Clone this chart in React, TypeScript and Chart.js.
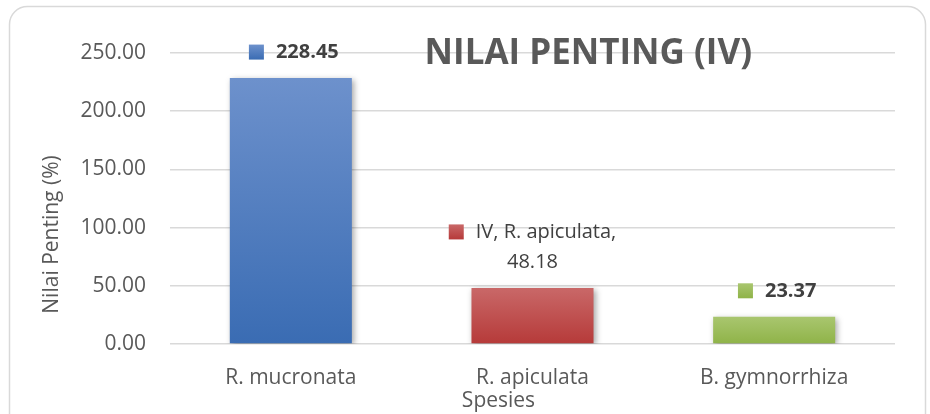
import React, { useEffect, useRef } from "react";
import { Chart, registerables } from "chart.js";

Chart.register(...registerables);

const categories = ["R. mucronata", "R. apiculata", "B. gymnorrhiza"];
const seriesName = "IV";
const values = [228.45, 48.18, 23.37];
const yMin = 0;
const yMax = 250;
const yStep = 50;
const chartTitle = "NILAI PENTING (IV)";
const yAxisTitle = "Nilai Penting (%)";
const xAxisTitle = "Spesies";
// label style per bar: "value" = value only (bold), "full" = series, category, value
const labelModes = ["value", "full", "value"];

const topColors = ["#6d91cc", "#c96868", "#a9c66f"];
const bottomColors = ["#3a6cb3", "#b63a39", "#8fb348"];

const FONT = "'Open Sans', sans-serif";
const TEXT = "#595959";
const LABEL = "#404040";

function barGradient(ctx: CanvasRenderingContext2D, i: number, top: number, bottom: number) {
  const g = ctx.createLinearGradient(0, top, 0, bottom);
  g.addColorStop(0, topColors[i]);
  g.addColorStop(1, bottomColors[i]);
  return g;
}

const decorPlugin = {
  id: "decor",
  beforeDraw(chart: any) {
    const ctx = chart.ctx as CanvasRenderingContext2D;
    ctx.save();
    ctx.strokeStyle = "#d9d9d9";
    ctx.lineWidth = 1.5;
    ctx.beginPath();
    (ctx as any).roundRect(9.5, 6.5, 916, 430, 18);
    ctx.stroke();
    ctx.restore();
  },
  beforeDatasetsDraw(chart: any) {
    const ctx = chart.ctx as CanvasRenderingContext2D;
    ctx.save();
    ctx.shadowColor = "rgba(0,0,0,0.35)";
    ctx.shadowBlur = 6;
    ctx.shadowOffsetX = 2;
    ctx.shadowOffsetY = 2;
  },
  afterDatasetsDraw(chart: any) {
    const ctx = chart.ctx as CanvasRenderingContext2D;
    ctx.restore();
    const meta = chart.getDatasetMeta(0);
    const area = chart.chartArea;
    const marker = 15;
    const gap = 12;
    meta.data.forEach((bar: any, i: number) => {
      const v = values[i];
      const valText = v.toFixed(2);
      ctx.save();
      ctx.textBaseline = "middle";
      ctx.fillStyle = LABEL;
      if (labelModes[i] === "full") {
        ctx.font = `20px ${FONT}`;
        const line1 = `${seriesName}, ${categories[i]},`;
        const w1 = ctx.measureText(line1).width;
        const total = marker + gap + w1;
        const left = bar.x - total / 2;
        const y2 = bar.y - 26;
        const y1 = y2 - 30;
        ctx.fillStyle = barGradient(ctx, i, y1 - marker / 2, y1 + marker / 2);
        ctx.fillRect(left, y1 - marker / 2, marker, marker);
        ctx.fillStyle = LABEL;
        ctx.textAlign = "left";
        ctx.fillText(line1, left + marker + gap, y1);
        ctx.textAlign = "center";
        ctx.fillText(valText, bar.x, y2);
      } else {
        ctx.font = `bold 20px ${FONT}`;
        const w = ctx.measureText(valText).width;
        const total = marker + gap + w;
        const left = bar.x + 3 - total / 2;
        const y = bar.y - 26;
        ctx.fillStyle = barGradient(ctx, i, y - marker / 2, y + marker / 2);
        ctx.fillRect(left, y - marker / 2, marker, marker);
        ctx.fillStyle = LABEL;
        ctx.textAlign = "left";
        ctx.fillText(valText, left + marker + gap, y);
      }
      ctx.restore();
    });

    // chart title (drawn over gridline)
    ctx.save();
    ctx.fillStyle = TEXT;
    ctx.font = `bold 35px ${FONT}`;
    ctx.textAlign = "center";
    ctx.textBaseline = "middle";
    ctx.fillText(chartTitle, area.left + (area.right - area.left) * 0.577, area.top + 1);
    ctx.restore();

    // y axis title
    ctx.save();
    ctx.fillStyle = TEXT;
    ctx.font = `21px ${FONT}`;
    ctx.textAlign = "center";
    ctx.textBaseline = "middle";
    ctx.translate(52, (area.top + area.bottom) / 2 + 36);
    ctx.rotate(-Math.PI / 2);
    ctx.fillText(yAxisTitle, 0, 0);
    ctx.restore();

    // x axis title
    ctx.save();
    ctx.fillStyle = TEXT;
    ctx.font = `21px ${FONT}`;
    ctx.textAlign = "center";
    ctx.textBaseline = "middle";
    ctx.fillText(xAxisTitle, (area.left + area.right) / 2 - 34, area.bottom + 57);
    ctx.restore();
  },
};

export default function App() {
  const ref = useRef<HTMLCanvasElement | null>(null);

  useEffect(() => {
    if (!ref.current) return;
    const chart = new Chart(ref.current, {
      type: "bar",
      data: {
        labels: categories,
        datasets: [
          {
            label: seriesName,
            data: values,
            backgroundColor: (c: any) => {
              const i = c.dataIndex ?? 0;
              const ys = c.chart.scales?.y;
              if (!ys || c.type !== "data") return bottomColors[i] || bottomColors[0];
              const top = ys.getPixelForValue(values[i]);
              const bot = ys.getPixelForValue(0);
              if (!isFinite(top) || !isFinite(bot) || top === bot) return bottomColors[i];
              return barGradient(c.chart.ctx, i, top, bot);
            },
            borderWidth: 0,
            barPercentage: 0.505,
            categoryPercentage: 1,
          },
        ],
      },
      options: {
        responsive: false,
        animation: false,
        devicePixelRatio: 1,
        layout: { padding: { left: 0, right: 35, top: 53, bottom: 0 } },
        plugins: {
          legend: { display: false },
          title: { display: false },
          tooltip: { enabled: false },
        },
        scales: {
          x: {
            grid: { display: false },
            border: { display: false },
            ticks: {
              color: TEXT,
              font: { family: FONT, size: 21 },
              padding: 13,
              maxRotation: 0,
            },
            afterFit: (s: any) => {
              s.height = 70;
            },
          },
          y: {
            min: yMin,
            max: yMax,
            grid: { color: "#d9d9d9", lineWidth: 1.6, drawTicks: false },
            border: { display: false },
            ticks: {
              stepSize: yStep,
              color: TEXT,
              font: { family: FONT, size: 21 },
              padding: 24,
              callback: (v: any) => Number(v).toFixed(2),
            },
            afterFit: (s: any) => {
              s.width = 170;
            },
          },
        },
      },
      plugins: [decorPlugin],
    });
    return () => chart.destroy();
  }, []);

  return (
    <div style={{ position: "absolute", left: 0, top: 0, width: 930, height: 414, background: "#fff" }}>
      <canvas ref={ref} width={930} height={414} style={{ display: "block" }} />
    </div>
  );
}
